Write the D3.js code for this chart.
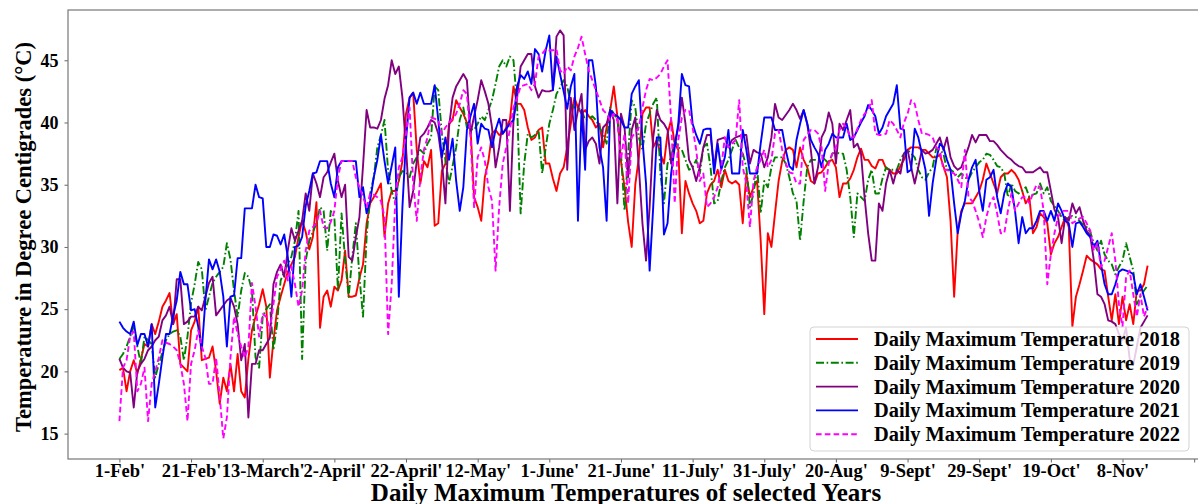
<!DOCTYPE html>
<html>
<head>
<meta charset="utf-8">
<script src="https://cdn.jsdelivr.net/npm/d3@7"></script>
<style>
  body { margin: 0; background: #fff; }
  svg { display: block; }
  text { font-family: "Liberation Serif", "Times New Roman", serif; }
</style>
</head>
<body>
<div id="chart"></div>
<script>
// x ticks every 20 days starting 1-Feb (last tick has no label)
const tickDays = [0, 20, 40, 60, 80, 100, 120, 140, 160, 180, 200, 220, 240, 260, 280, 300];
const tickLabels = ["1-Feb'", "21-Feb'", "13-March'", "2-April'", "22-April'", "12-May'", "1-June'",
  "21-June'", "11-July'", "31-July'", "20-Aug'", "9-Sept'", "29-Sept'", "19-Oct'", "8-Nov'", ""];
const yTicks = [15, 20, 25, 30, 35, 40, 45];

// daily maximum temperatures, 1-Feb onwards
const temp2018 = [
  20.1, 20.3, 18.4, 20, 20.9, 19.8, 21, 22.2, 22, 23.8,
  23, 24, 25.2, 25.7, 26.3, 23.8, 24.6, 20.6, 20.3, 20,
  23.3, 24, 25.2, 20.9, 21, 21.1, 22, 20, 17.4, 19.5,
  18.4, 20.6, 18.4, 21.4, 18.4, 17.9, 21, 23.3, 24.4, 25.4,
  26.6, 25.2, 19.5, 22.5, 24.9, 26, 27, 28, 28.6, 29.2,
  30.8, 32.1, 31.2, 29.8, 30.8, 33.6, 23.5, 26, 26.5, 25.2,
  26.8, 26.5, 27.3, 29.7, 26, 26, 26.1, 27.5, 28.6, 31.9,
  33.5, 34, 34.5, 35.1, 30.8, 33.5, 34.5, 34.5, 35.3, 36.9,
  40.7, 42, 42.4, 37.8, 35.1, 36.9, 36.4, 37.8, 31.7, 31.9,
  36.1, 36.7, 39.9, 40.2, 41.8, 41.2, 40.7, 40, 39.6, 34,
  33.2, 32.1, 35.6, 36.9, 39.1, 39.4, 39, 39.1, 39.6, 40.2,
  42.9, 41.5, 41.5, 41, 39.6, 38.6, 38.8, 39.4, 39.6, 36.7,
  36.7, 35.5, 34.5, 35.9, 36.4, 38, 39.9, 42, 41.2, 40.7,
  41, 40.5, 40.2, 39.6, 39.9, 38, 39.6, 41, 42.9, 40.5,
  36.9, 34.8, 32, 30, 35, 37.2, 40.7, 41.2, 41.2, 38,
  38.6, 37.5, 36.7, 39.1, 40.2, 38.3, 37.8, 31.1, 35.3, 34.3,
  33.5, 32.9, 31.9, 32.1, 34.3, 35, 35.3, 36.2, 34.8, 36.2,
  35.3, 35.1, 35.3, 35, 31.9, 35.9, 34, 34.8, 35.3, 30.5,
  24.6, 31.1, 30, 32.7, 35.3, 36.9, 37.8, 38, 37.8, 36.4,
  38, 37, 36.4, 35.3, 35.1, 35.9, 36, 36.4, 36.9, 37,
  36.4, 34, 35.1, 35.1, 35.5, 36.2, 37.2, 37.9, 37, 37,
  36.5, 36.3, 37, 37, 36.3, 36.2, 35.9, 35.9, 36.5, 37,
  37.8, 38, 38, 38, 37.8, 37.8, 37.5, 37.2, 37.2, 37.4,
  36.5, 35.6, 32.1, 26, 31.3, 32.9, 33.5, 33.5, 33.5, 34,
  34.5, 35.4, 36.7, 35.9, 35.1, 34.3, 35.6, 35.9, 35.9, 36.2,
  35.9, 35.4, 34.5, 33.5, 34, 31.1, 31.6, 32.7, 32.4, 31.9,
  29.4, 30.3, 30.8, 31.6, 32.4, 31.6, 23.6, 26, 27, 28.1,
  29.3, 29, 28.8, 28.6, 28.2, 28.1, 26, 24.1, 26.2, 23.8,
  26, 24.1, 25.4, 23.8, 26.5, 26.5, 27, 28.5
];
const temp2019 = [
  21, 21.4, 22, 22.8, 23.6, 22, 20.6, 22.8, 22.5, 22.2,
  19.5, 20.6, 21.5, 22.5, 23, 23.2, 23.3, 22.8, 20.9, 22.8,
  25.5, 27, 28.8, 28.2, 24.9, 26, 27.1, 27.6, 28, 28.4,
  30.3, 29, 26.5, 24.4, 26.5, 27.9, 27.6, 26.5, 21.1, 20.3,
  24.4, 25, 25.4, 21.7, 23.8, 27.3, 28, 28.6, 29.2, 30.5,
  32.9, 21, 28.9, 30.5, 31.2, 31.9, 33.2, 32.9, 29.7, 32.9,
  32.4, 26.5, 32.7, 29, 26, 29.2, 31.9, 27.6, 24.4, 30.8,
  34.3, 35.6, 38, 39, 40.2, 36.1, 34.5, 33.5, 35.6, 36.1,
  36, 35.6, 36.7, 37.2, 37.8, 37.5, 38.3, 38.8, 42.9, 42.6,
  39.1, 37, 35.1, 36.5, 38, 40.2, 41.2, 39.6, 39.5, 39.4,
  39.9, 40.5, 40.2, 41, 41.8, 43.1, 44.5, 45, 44.5, 45.3,
  45, 41.5, 32.7, 36.7, 39.1, 38.8, 39, 39.4, 35.9, 38,
  39.9, 41, 42.3, 42.8, 43.4, 42.9, 41.5, 41.2, 41.2, 41,
  40.2, 40.3, 40.5, 40.2, 39.6, 39.1, 38.3, 41.2, 40.7, 40.2,
  37.5, 32.9, 37.5, 41.8, 41.2, 38.8, 37.8, 39.9, 40.7, 41.5,
  42, 35.9, 33.5, 36.7, 37.2, 38.6, 38, 37.8, 37, 36.2,
  36.4, 37, 35.9, 38, 38.3, 36.4, 33.5, 33.7, 35.3, 36.4,
  37, 37.8, 38.6, 38, 37.5, 36.4, 33.2, 34.3, 36.4, 32.7,
  35.3, 34.8, 36.4, 37.2, 37.2, 37.2, 36.7, 35.6, 34.3, 33.7,
  30.5, 33.7, 36.4, 37, 37, 37, 37.2, 37, 36.7, 37.5,
  37.6, 37.5, 37.5, 36.2, 34, 30.8, 34.3, 34, 33.7, 35.4,
  36.2, 34.3, 34.3, 35.5, 36.4, 36.2, 36.2, 36.2, 37, 37.5,
  37.8, 37.5, 37.2, 36.2, 35.6, 35.4, 36, 36.4, 37.9, 37.8,
  37.5, 36.2, 36.2, 36, 35.6, 35.9, 35.6, 35.4, 36, 36.4,
  36.8, 37, 37.5, 37.4, 37, 36.5, 36.4, 35.9, 34, 35.1,
  34.5, 34.3, 34.5, 34.8, 34, 34.2, 34.3, 35.1, 34.3, 34.8,
  33.7, 33.3, 32.9, 32.4, 32.1, 32.4, 32.5, 32.4, 32.1, 31.8,
  31.6, 31.2, 30.3, 29.7, 30.5, 29.4, 28.9, 28.6, 27.8, 28.4,
  28.9, 30.3, 29.2, 28.1, 25.4, 26, 26.5, 26.9
];
const temp2020 = [
  21, 20.3, 20, 19.9, 17.1, 20, 20.6, 21, 21.7, 22,
  22.5, 22.8, 24.1, 24.5, 25.2, 23.8, 27.4, 27.4, 23.8, 24,
  24.4, 24.4, 25.2, 24.9, 26, 27.1, 27.6, 24.5, 24.9, 25.3,
  25.7, 25.9, 25.2, 23.8, 20.9, 22.2, 16.3, 20.6, 20.6, 21.7,
  21.7, 22.2, 22.7, 27, 28, 28.6, 27.6, 29.7, 31.5, 30.5,
  31.3, 32.1, 34.3, 32.9, 35.9, 35.1, 34, 35.6, 36, 36.8,
  37.5, 35.3, 34, 35, 29.2, 28.9, 30.8, 32.4, 36.5, 41,
  39.6, 39.6, 39.5, 40.2, 41.9, 43, 45, 43.9, 44.5, 42,
  38, 33.2, 34.5, 36.9, 38.8, 39.1, 39.6, 40.2, 40, 39.1,
  37, 33.5, 39.6, 42, 42.9, 43.4, 43.9, 43.4, 39.1, 40.5,
  41.8, 43.4, 42.5, 41.5, 39.6, 36.4, 38, 40.2, 40.2, 32.9,
  40.2, 42, 44.5, 45, 45.5, 45.5, 42.9, 42, 42.6, 42.5,
  42.5, 42.6, 46.9, 47.4, 47, 36.2, 42, 39.4, 41, 42.3,
  37.8, 38.5, 38.8, 38.3, 36.7, 39.6, 39.9, 41, 40.2, 33.5,
  40.7, 39.6, 35.6, 39.4, 40.4, 36.4, 31.9, 28.9, 33.2, 38.8,
  41, 40.2, 39.9, 39.4, 36.7, 38.3, 39.6, 42, 39.9, 37,
  36.4, 35.3, 36.4, 38, 39, 39, 36.4, 38.6, 38.7, 38.8,
  38, 38.6, 38.8, 38.9, 39, 39, 36.7, 37.8, 37.6, 37.5,
  36.4, 37.2, 38.8, 41.5, 40.4, 40.2, 40.6, 41, 41.5, 41,
  40.3, 41, 39.9, 37.8, 35.1, 36.4, 38.8, 39.4, 40.8, 39.9,
  36.7, 39.9, 39.4, 40.2, 41, 38, 38.3, 37.5, 34, 31.1,
  28.9, 28.9, 33.5, 32.9, 35.1, 36.2, 35.1, 36.2, 35.9, 37.5,
  37.8, 36.4, 35.1, 36.4, 37.8, 37.5, 37.6, 37.8, 38.3, 38.8,
  37.8, 38.8, 37.2, 36.5, 36.2, 36.4, 37.2, 38, 39, 38.4,
  39, 39, 39, 38.5, 38.5, 38.2, 37.8, 37.5, 37.2, 37,
  36.7, 36.5, 36.4, 36, 36, 36, 36.2, 36.4, 36, 36,
  34.5, 33, 32.4, 30.3, 32.4, 32.1, 33.5, 32.7, 33.2, 32.1,
  31.3, 30.9, 28.9, 26.2, 26, 25.4, 24.1, 24, 23.8, 23,
  22.5, 23.5, 21, 20.5, 22, 23.5, 24, 24.5
];
const temp2021 = [
  24, 23.5, 23.2, 23, 24, 22.1, 23, 23, 22, 23.8,
  17.1, 19, 21.1, 23, 23, 24.5, 25.7, 28, 27, 27,
  24.9, 25, 23.6, 21.7, 25.7, 29, 28.2, 29, 28, 26,
  22, 26, 26.1, 29.1, 29.1, 33.1, 33.1, 33.1, 35, 34,
  33.9, 30, 30, 31, 30.9, 30.2, 31, 29.2, 26, 30,
  30.1, 30.8, 33.3, 34.5, 35.9, 36, 36.9, 36.9, 36.9, 35.1,
  34, 36.4, 36.9, 36.9, 36.9, 36.9, 36.9, 34, 34.8, 32.7,
  33.7, 35.6, 37, 39, 36.9, 35.1, 36.5, 38, 26, 33.2,
  38.6, 42, 42.4, 41.5, 42.4, 41.5, 41.5, 41.5, 43, 40.2,
  37.2, 38.8, 37, 38.7, 35.3, 32.9, 34.8, 39.4, 40.5, 41.5,
  38.3, 39.9, 39.5, 39.4, 38, 39.4, 40.3, 39.1, 39.5, 39.9,
  40.2, 42.9, 43.8, 43.5, 44.1, 43.1, 45.9, 45.5, 44.1, 45.8,
  47, 42.6, 45.3, 43.9, 42.5, 41.1, 42.9, 43.9, 32.1, 41,
  36.2, 45, 45, 42.9, 38, 36.4, 32.1, 41, 40.7, 40.5,
  40.2, 39.6, 39.6, 42.3, 42.9, 43.4, 38.6, 35.1, 28.1, 33.2,
  38.8, 38.8, 31, 31.9, 35.9, 38, 39.9, 43.9, 43, 42.9,
  39.9, 39, 38.3, 39.4, 39.5, 39.5, 35.9, 38.3, 36.2, 37.2,
  39.4, 35.9, 35.9, 35.9, 39.4, 37.8, 35.9, 35.9, 35.9, 38.3,
  40.4, 40.4, 40.4, 39.4, 39.4, 39.4, 37.8, 36.5, 36.2, 38.6,
  39.9, 41, 39.9, 38.6, 38, 37.5, 36.4, 37.8, 38.3, 39.1,
  38.8, 38.8, 38.8, 39.9, 38.6, 38.8, 39.4, 40, 40.5, 41.4,
  41, 40.5, 39.1, 39.6, 40.5, 41, 41.5, 43, 39.5, 39.4,
  36, 36.2, 39.5, 38.8, 37.5, 36.2, 32.5, 35.1, 37, 38.3,
  38, 37, 36.2, 33.5, 31.1, 32.7, 33.7, 35.4, 36.4, 37,
  34.5, 32.9, 35.4, 35.6, 36.2, 34, 32.7, 34.3, 35.1, 34.8,
  32.9, 30.3, 32.4, 31.1, 31.5, 31.5, 32.1, 32.9, 32.9, 32.1,
  32.9, 32.1, 33.5, 32.9, 32.1, 31.9, 30, 31.9, 32, 31.6,
  31.1, 30.8, 30, 30.5, 28.6, 27, 26.2, 26.2, 27, 28,
  28.2, 28.1, 28, 27.8, 26.2, 27, 26, 24.9
];
const temp2022 = [
  16, 20.3, 20.9, 22.8, 23.2, 18.4, 19, 20.3, 16, 19,
  20, 21.1, 22.5, 22.3, 22.2, 22, 21.7, 20.6, 19, 16,
  20.6, 21.7, 23.3, 22, 21.1, 19, 19, 21.1, 18, 14.6,
  16.3, 21.1, 24.4, 23, 22, 21.1, 22, 27.1, 25.2, 22.8,
  24.6, 24.4, 23.3, 25.4, 27.6, 28.2, 28.9, 27.3, 28.4, 27,
  25.2, 26.5, 29.7, 31.3, 31.6, 31.9, 32.9, 31.6, 31.5, 32,
  32.9, 35.6, 36.9, 36.9, 36.9, 36.9, 35.6, 34.8, 34, 33.2,
  34.3, 34.2, 34, 33.7, 32.4, 23, 27, 33.7, 36.4, 37.2,
  39.1, 41.2, 35.1, 32.1, 35.6, 37.8, 38.8, 40.4, 40.3, 40.2,
  39.1, 39.6, 40, 40.3, 40.7, 41.5, 42.6, 42.3, 38.8, 33.2,
  37.2, 38, 36.9, 34.8, 33.7, 28.1, 33.2, 36.7, 38, 39.4,
  41.2, 42, 42.9, 43, 43.1, 42.6, 43.1, 45.3, 45.5, 45.9,
  45.8, 45.8, 45.9, 44.2, 43.9, 44.5, 44.2, 45.3, 46, 46.9,
  45.5, 44.2, 43.4, 42.6, 41.8, 41, 40.7, 40.2, 40.7, 40.2,
  37, 39.1, 33.5, 38.8, 39.2, 39.6, 41.2, 42.6, 43.5, 43.4,
  43.6, 43.9, 44.5, 45, 40.2, 33.5, 38.6, 40.4, 41, 41,
  39.6, 37.8, 35.3, 35.9, 33.2, 33.5, 34, 34.8, 36.4, 38.8,
  38, 38.3, 38.6, 41.8, 36.4, 35.1, 31.6, 35.3, 36.4, 37,
  37.8, 36.4, 37, 39.1, 39.4, 37.8, 36.7, 36, 35.9, 35.1,
  35.1, 38.6, 39, 39.4, 39.4, 39.1, 38, 34.5, 36.7, 37.5,
  38, 39.4, 39.9, 39.6, 38.8, 38.8, 39.5, 40.2, 40.7, 41,
  41.8, 39.1, 39, 39, 39.1, 40.2, 39.9, 39.4, 38.8, 40,
  40.7, 41.8, 41.5, 40.2, 39.1, 39.1, 39, 38.8, 38, 37.8,
  36.2, 36.2, 36, 35.9, 35.4, 34.8, 37.8, 34, 33.7, 32.9,
  32, 30.8, 32.4, 33.5, 34, 32.7, 31.1, 31.1, 32.9, 34.3,
  32.9, 33.5, 34, 34, 33.5, 34.3, 35, 34.8, 32.9, 27,
  29.4, 31.1, 32.4, 32.9, 32.9, 32.9, 31.9, 32.1, 32.3, 32.4,
  31.9, 31.3, 29.7, 30.3, 28.4, 28.9, 30, 31.1, 28.9, 25.4,
  23.6, 27.6, 28.1, 26.2, 24.4, 26.2, 24.4, 25.2
];

const years = ['2018', '2019', '2020', '2021', '2022'];
const allSeries = [temp2018, temp2019, temp2020, temp2021, temp2022];
const colors = ['#ff0000', '#008000', '#800080', '#0000ff', '#ff00ff'];
const dashes = [null, '8,2.6,1.6,2.6', null, null, '5.6,3.2'];

const W = 1198, H = 504;
const margin = { top: 10, right: -1, bottom: 45, left: 68 };
const width = W - margin.left - margin.right;
const height = H - margin.top - margin.bottom;

const svg = d3.select('#chart')
  .append('svg')
  .attr('width', W)
  .attr('height', H)
  .style('background', '#fff');

const g = svg.append('g')
  .attr('transform', `translate(${margin.left},${margin.top})`);

// scales with 5% padding like matplotlib
const n = temp2018.length - 1;
const xScale = d3.scaleLinear()
  .domain([-0.05 * n, 1.05 * n])
  .range([0, width]);

const allVals = allSeries.flat();
const yMin = d3.min(allVals), yMax = d3.max(allVals);
const pad = (yMax - yMin) * 0.05;
const yScale = d3.scaleLinear()
  .domain([yMin - pad, yMax + pad])
  .range([height, 0]);

// lines
const line = d3.line()
  .x((d, i) => xScale(i))
  .y(d => yScale(d));

allSeries.forEach((s, k) => {
  g.append('path')
    .datum(s)
    .attr('fill', 'none')
    .attr('stroke', colors[k])
    .attr('stroke-width', 1.9)
    .attr('stroke-linejoin', 'round')
    .attr('stroke-dasharray', dashes[k])
    .attr('d', line);
});

// axes
const xAxis = g.append('g')
  .attr('transform', `translate(0,${height})`)
  .call(d3.axisBottom(xScale)
    .tickValues(tickDays)
    .tickFormat((d, i) => tickLabels[i])
    .tickSize(3.5)
    .tickSizeOuter(0)
    .tickPadding(1.5));

const yAxis = g.append('g')
  .call(d3.axisLeft(yScale)
    .tickValues(yTicks)
    .tickFormat(d3.format('d'))
    .tickSize(3.5)
    .tickSizeOuter(0)
    .tickPadding(6));

[xAxis, yAxis].forEach(a => {
  a.select('.domain').remove();
  a.selectAll('.tick line').attr('stroke', '#666');
  a.selectAll('.tick text')
    .style('font-family', '"Liberation Serif", serif')
    .style('font-weight', 'bold')
    .attr('fill', '#000');
});
xAxis.selectAll('.tick text').style('font-size', '18.5px');
yAxis.selectAll('.tick text').style('font-size', '18px');

// frame
g.append('rect')
  .attr('x', 0)
  .attr('y', 0)
  .attr('width', width)
  .attr('height', height)
  .attr('fill', 'none')
  .attr('stroke', '#777')
  .attr('stroke-width', 1.2);

// axis titles
svg.append('text')
  .attr('x', 626)
  .attr('y', 501)
  .attr('text-anchor', 'middle')
  .style('font-weight', 'bold')
  .style('font-size', '25px')
  .text('Daily Maximum Temperatures of selected Years');

svg.append('text')
  .attr('transform', 'translate(31,237) rotate(-90)')
  .attr('text-anchor', 'middle')
  .style('font-weight', 'bold')
  .style('font-size', '22.5px')
  .text('Temperature in Degree Centigrades (\u00B0C)');

// legend
const legend = svg.append('g')
  .attr('transform', 'translate(810,327)');

legend.append('rect')
  .attr('width', 379)
  .attr('height', 124)
  .attr('rx', 4)
  .attr('fill', '#fff')
  .attr('fill-opacity', 0.8)
  .attr('stroke', '#d3d3d3');

years.forEach((yr, k) => {
  const cy = 12 + k * 23.8;
  legend.append('line')
    .attr('x1', 6)
    .attr('x2', 48)
    .attr('y1', cy)
    .attr('y2', cy)
    .attr('stroke', colors[k])
    .attr('stroke-width', 1.9)
    .attr('stroke-dasharray', dashes[k]);
  legend.append('text')
    .attr('x', 64)
    .attr('y', cy + 7)
    .style('font-weight', 'bold')
    .style('font-size', '20.4px')
    .text('Daily Maximum Temperature ' + yr);
});
</script>
</body>
</html>
